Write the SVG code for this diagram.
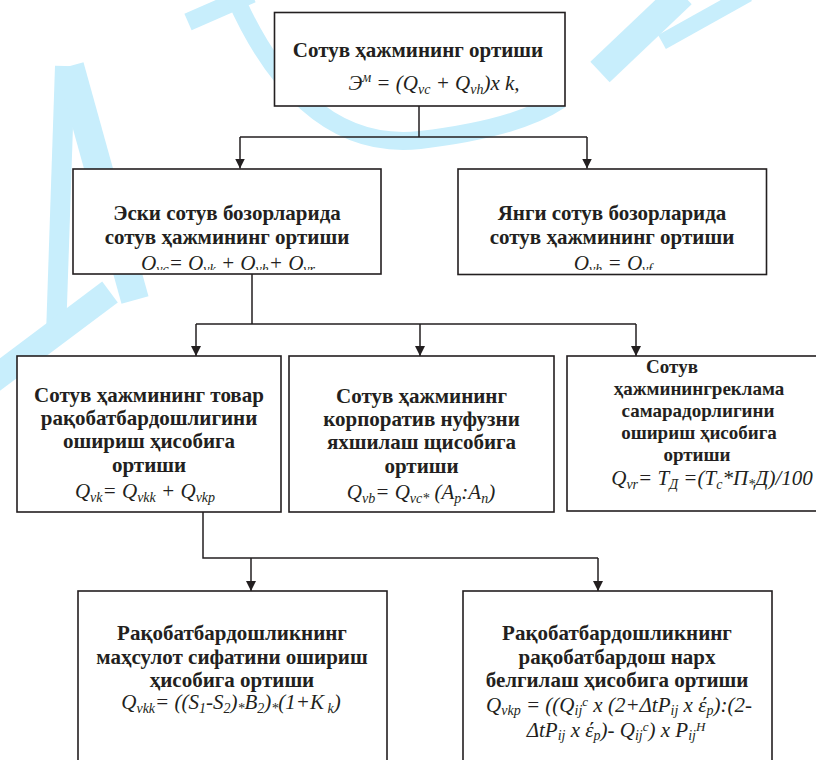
<svg xmlns="http://www.w3.org/2000/svg" width="816" height="760" viewBox="0 0 816 760">
<defs>
<style>
.wm{fill:none;stroke:#c8eefc;stroke-linecap:butt}
.box{fill:#ffffff;stroke:#231f20;stroke-width:1.6}
text{font-family:"Liberation Serif","Times New Roman","DejaVu Serif",serif}
.t{font-weight:bold;font-size:21px;fill:#231f20;text-anchor:middle}
.t2{font-weight:bold;font-size:19px;fill:#231f20;text-anchor:middle}
.f{font-style:italic;font-size:21px;fill:#231f20;text-anchor:middle}
.s{font-size:14px}
.u{font-size:13px}
.c{fill:none;stroke:#231f20;stroke-width:1.5}
</style>
<marker id="ah" markerUnits="userSpaceOnUse" markerWidth="10" markerHeight="11" refX="10" refY="5" orient="auto">
<path d="M0,0 L10,5 L0,10 z" fill="#231f20"/>
</marker>
<clipPath id="clipL"><rect x="73" y="169" width="309" height="101"/></clipPath>
<clipPath id="clipR"><rect x="458" y="169" width="309" height="101"/></clipPath>
</defs>
<rect x="0" y="0" width="816" height="760" fill="#ffffff"/>
<g id="watermark">
<path class="wm" d="M188 22 L252 -6" stroke-width="18"/>
<path class="wm" d="M65 66 L56 335" stroke-width="20"/>
<path class="wm" d="M70 66 L135 300" stroke-width="28"/>
<path class="wm" d="M-10 382 L110 292" stroke-width="26"/>
<path class="wm" d="M232 -10 C270 80 330 150 420 140 C480 133 530 120 560 100" stroke-width="18"/>
<path class="wm" d="M600 72 L682 -6" stroke-width="28"/>
<path class="wm" d="M662 42 L748 -6" stroke-width="16"/>
</g>
<g id="connectors">
<path class="c" d="M419 106 V137 M240 137 H587"/>
<path class="c" d="M240 137 V168.5" marker-end="url(#ah)"/>
<path class="c" d="M587 137 V168.5" marker-end="url(#ah)"/>
<path class="c" d="M252 274 V324 M196 324 H636"/>
<path class="c" d="M196 324 V356" marker-end="url(#ah)"/>
<path class="c" d="M420 324 V356" marker-end="url(#ah)"/>
<path class="c" d="M636 324 V356" marker-end="url(#ah)"/>
<path class="c" d="M203 512 V558 H598"/>
<path class="c" d="M251 558 V591" marker-end="url(#ah)"/>
<path class="c" d="M598 558 V591" marker-end="url(#ah)"/>
</g>
<g id="n-top">
<rect class="box" x="274.5" y="12.5" width="290.5" height="93.5"/>
<text class="t" x="418" y="57">Сотув ҳажмининг ортиши</text>
<text class="f" x="434" y="90">Э<tspan class="s" dy="-8">м</tspan><tspan dy="8"> = (Q</tspan><tspan class="s" dy="4">vc</tspan><tspan dy="-4"> + Q</tspan><tspan class="s" dy="4">vh</tspan><tspan dy="-4">)x k,</tspan></text>
</g>
<g id="n-old">
<rect class="box" x="73" y="169" width="308" height="105"/>
<text class="t" x="227" y="220">Эски сотув бозорларида</text>
<text class="t" x="227" y="244">сотув ҳажмининг ортиши</text>
<text class="f" x="228" y="270" clip-path="url(#clipL)">Q<tspan class="s" dy="4">vc</tspan><tspan dy="-4">= Q</tspan><tspan class="s" dy="4">vk</tspan><tspan dy="-4"> + Q</tspan><tspan class="s" dy="4">vh</tspan><tspan dy="-4">+ Q</tspan><tspan class="s" dy="4">vr</tspan></text>
</g>
<g id="n-new">
<rect class="box" x="458" y="169" width="308.5" height="105.5"/>
<text class="t" x="612" y="220">Янги сотув бозорларида</text>
<text class="t" x="612" y="244">сотув ҳажмининг ортиши</text>
<text class="f" x="613" y="270" clip-path="url(#clipR)">Q<tspan class="s" dy="4">vh</tspan><tspan dy="-4"> = Q</tspan><tspan class="s" dy="4">vf</tspan></text>
</g>
<g id="n-goods">
<rect class="box" x="17" y="356" width="264" height="156"/>
<text class="t" x="149" y="402">Сотув ҳажмининг товар</text>
<text class="t" x="149" y="425">рақобатбардошлигини</text>
<text class="t" x="149" y="448">ошириш ҳисобига</text>
<text class="t" x="149" y="472">ортиши</text>
<text class="f" x="145" y="498">Q<tspan class="s" dy="4">vk</tspan><tspan dy="-4">= Q</tspan><tspan class="s" dy="4">vkk</tspan><tspan dy="-4"> + Q</tspan><tspan class="s" dy="4">vkp</tspan></text>
</g>
<g id="n-corp">
<rect class="box" x="289" y="356" width="265" height="156"/>
<text class="t" x="421.5" y="403">Сотув ҳажмининг</text>
<text class="t" x="421.5" y="426">корпоратив нуфузни</text>
<text class="t" x="421.5" y="449">яхшилаш щисобига</text>
<text class="t" x="421.5" y="473">ортиши</text>
<text class="f" x="421" y="499">Q<tspan class="s" dy="4">vb</tspan><tspan dy="-4">= Q</tspan><tspan class="s" dy="4">vc*</tspan><tspan dy="-4"> (A</tspan><tspan class="s" dy="4">p</tspan><tspan dy="-4">:A</tspan><tspan class="s" dy="4">n</tspan><tspan dy="-4">)</tspan></text>
</g>
<g id="n-ads">
<rect class="box" x="567" y="356" width="280" height="155"/>
<text class="t2" x="672" y="373">Сотув</text>
<text class="t2" x="699" y="395">ҳажминингреклама</text>
<text class="t2" x="698" y="417">самарадорлигини</text>
<text class="t2" x="699" y="439">ошириш ҳисобига</text>
<text class="t2" x="697" y="461">ортиши</text>
<text class="f" x="712" y="485">Q<tspan class="s" dy="4">vr</tspan><tspan dy="-4">= T</tspan><tspan class="s" dy="4">Д</tspan><tspan dy="-4"> =(T</tspan><tspan class="s" dy="4">c</tspan><tspan dy="-4">*П</tspan><tspan class="s" dy="4">*</tspan><tspan dy="-4">Д)/100</tspan></text>
</g>
<g id="n-quality">
<rect class="box" x="78" y="591" width="309" height="190"/>
<text class="t" x="232" y="640">Рақобатбардошликнинг</text>
<text class="t" x="232" y="664">маҳсулот сифатини ошириш</text>
<text class="t" x="232" y="687">ҳисобига ортиши</text>
<text class="f" x="231" y="709">Q<tspan class="s" dy="4">vkk</tspan><tspan dy="-4">= ((S</tspan><tspan class="s" dy="4">1</tspan><tspan dy="-4">-S</tspan><tspan class="s" dy="4">2</tspan><tspan dy="-4">)</tspan><tspan class="s" dy="4">*</tspan><tspan dy="-4">B</tspan><tspan class="s" dy="4">2</tspan><tspan dy="-4">)</tspan><tspan class="s" dy="4">*</tspan><tspan dy="-4">(1+K</tspan><tspan class="s" dy="4"> k</tspan><tspan dy="-4">)</tspan></text>
</g>
<g id="n-price">
<rect class="box" x="463" y="591" width="309" height="190"/>
<text class="t" x="617" y="640">Рақобатбардошликнинг</text>
<text class="t" x="617" y="664">рақобатбардош нарх</text>
<text class="t" x="617" y="687">белгилаш ҳисобига ортиши</text>
<text class="f" x="619" y="712">Q<tspan class="s" dy="3">vkp</tspan><tspan dy="-3"> = ((Q</tspan><tspan class="s" dy="3">ij</tspan><tspan class="u" dy="-9">c</tspan><tspan dy="6"> x (2+ΔtP</tspan><tspan class="s" dy="3">ij</tspan><tspan dy="-3"> x έ</tspan><tspan class="s" dy="3">p</tspan><tspan dy="-3">):(2-</tspan></text>
<text class="f" x="616" y="737">ΔtP<tspan class="s" dy="3">ij</tspan><tspan dy="-3"> x έ</tspan><tspan class="s" dy="3">p</tspan><tspan dy="-3">)- Q</tspan><tspan class="s" dy="3">ij</tspan><tspan class="u" dy="-9">c</tspan><tspan dy="6">) x P</tspan><tspan class="s" dy="3">ij</tspan><tspan class="u" dy="-9">H</tspan></text>
</g>
</svg>
